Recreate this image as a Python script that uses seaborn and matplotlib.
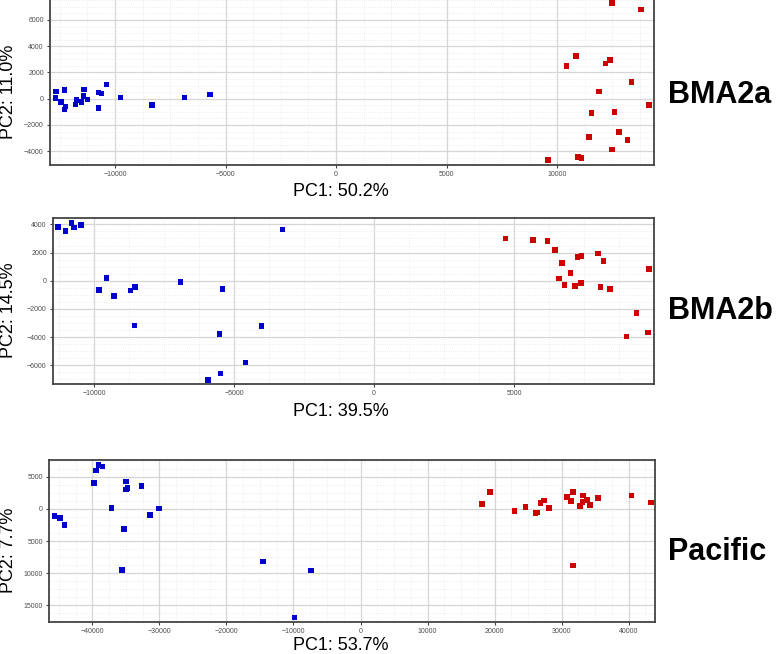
import pandas as pd
import matplotlib
matplotlib.use('Agg')
import matplotlib.pyplot as plt
from matplotlib.ticker import MultipleLocator
import seaborn as sns

# PCA scores, one pair of arrays per group and panel
# BMA2a
a_blue_x = [-12670, -12700, -12294, -12430, -12231, -12276, -11751, -11778, -11525, -11403,
            -11434, -11253, -10738, -10602, -10738, -10394, -9742, -8326, -6864, -5715]
a_blue_y = [536, 46, 659, -230, -590, -820, -107, -437, -260, 713,
            199, -54, 460, 406, -690, 1096, 100, -460, 100, 330]
a_red_x = [12489, 13801, 10846, 10425, 12385, 12190, 13367, 11887, 14149, 11557,
           12597, 11434, 12792, 13186, 12475, 10937, 11104, 9593]
a_red_y = [7280, 6789, 3264, 2498, 2958, 2682, 1272, 536, -490, -1073,
           -1027, -2912, -2529, -3142, -3885, -4444, -4521, -4674]

# BMA2b
b_blue_x = [-11274, -11012, -10798, -10714, -10464, -9548, -9821, -9274, -8690, -8524,
            -8548, -6917, -5417, -5512, -4012, -4595, -5488, -5929, -3274]
b_blue_y = [3830, 3546, 4113, 3782, 3972, 213, -638, -1087, -686, -449,
            -3168, -95, -591, -3759, -3191, -5792, -6572, -7021, 3641]
b_red_x = [4690, 5667, 6190, 6464, 7262, 7405, 7988, 8190, 6702, 7012,
           6607, 6798, 7167, 7381, 8083, 8417, 9810, 9369, 9012, 9774]
b_red_y = [3002, 2884, 2813, 2198, 1678, 1773, 1938, 1418, 1277, 567,
           166, -284, -355, -166, -426, -591, 827, -2267, -3944, -3660]

# Pacific
p_blue_x = [-45677, -44831, -44133, -39104, -38456, -39452, -39751, -34970, -35020, -34771,
            -32679, -37161, -31434, -30090, -35269, -35618, -14552, -7380, -9821]
p_blue_y = [-1091, -1403, -2494, 6857, 6597, 5974, 4052, 4260, 3013, 3273,
            3584, 156, -935, 52, -3117, -9506, -8156, -9610, -16883]
p_red_x = [18118, 19313, 22948, 24641, 26086, 26335, 26882, 27331, 28127, 30767,
           31663, 31365, 32709, 33108, 33207, 33755, 34253, 35398, 40428, 43317, 31663]
p_red_y = [779, 2649, -312, 312, -623, -571, 883, 1299, 156, 1870,
           2597, 1195, 416, 1039, 2078, 1351, 571, 1662, 2078, 987, -8779]

panel_names = ['BMA2a', 'BMA2b', 'Pacific']
pc1_labels = ['PC1: 50.2%', 'PC1: 39.5%', 'PC1: 53.7%']
pc2_labels = ['PC2: 11.0%', 'PC2: 14.5%', 'PC2: 7.7%']

# y tick labels of the Pacific panel as printed (minus signs missing in the original)
p_yticks = [5000, 0, -5000, -10000, -15000]
p_yticklabels = ['5000', '0', '5000', '10000', '15000']

data = [
    (a_blue_x, a_blue_y, a_red_x, a_red_y),
    (b_blue_x, b_blue_y, b_red_x, b_red_y),
    (p_blue_x, p_blue_y, p_red_x, p_red_y),
]

sns.set_style('white')
plt.rcParams['font.family'] = ['Liberation Sans', 'DejaVu Sans']

fig = plt.figure(figsize=(7.78, 6.54), dpi=100)
W, H = 778, 654

# axes boxes in pixels: left, top, right, bottom
boxes = [(50, -1, 654, 165), (53, 218, 654, 384), (49, 460, 655, 622)]
xlims = [(-12940, 14380), (-11460, 9990), (-46470, 43930)]
ylims = [(-5050, 7600), (-7320, 4450), (-17600, 7600)]
xsteps = [5000, 5000, 10000]
ysteps = [2000, 2000, 5000]
ylab_y = [92, 310, 550]
xlab_y = [191, 412, 646]
name_y = [95, 311, 552]

palette = {'a': '#0000CD', 'b': '#CD0000'}

for i, (bx, by, rx, ry) in enumerate(data):
    l, t, r, b = boxes[i]
    ax = fig.add_axes([l / W, 1 - b / H, (r - l) / W, (b - t) / H])
    df = pd.DataFrame({
        'PC1': bx + rx,
        'PC2': by + ry,
        'grp': ['a'] * len(bx) + ['b'] * len(rx),
    })
    sns.scatterplot(data=df, x='PC1', y='PC2', hue='grp', palette=palette,
                    marker='s', s=16, linewidth=0, legend=False, ax=ax, zorder=3)
    ax.set_xlim(*xlims[i])
    ax.set_ylim(*ylims[i])
    ax.xaxis.set_major_locator(MultipleLocator(xsteps[i]))
    ax.yaxis.set_major_locator(MultipleLocator(ysteps[i]))
    ax.xaxis.set_minor_locator(MultipleLocator(xsteps[i] / 4))
    ax.yaxis.set_minor_locator(MultipleLocator(ysteps[i] / 4))
    if i == 2:
        ax.set_yticks(p_yticks, p_yticklabels)
    ax.grid(True, which='major', color='#d6d6d6', linewidth=0.9, zorder=0)
    ax.grid(True, which='minor', color='#e8e8e8', linewidth=0.6, linestyle=':', zorder=0)
    ax.set_axisbelow(True)
    for sp in ax.spines.values():
        sp.set_color('#444444')
        sp.set_linewidth(1.3)
    ax.tick_params(which='major', length=2.5, width=0.8, color='#444444',
                   labelsize=5, labelcolor='#4d4d4d', pad=2, direction='out',
                   bottom=True, left=True)
    ax.tick_params(which='minor', length=0)
    ax.set_xlabel('')
    ax.set_ylabel('')

    fig.text(9 / W, 1 - ylab_y[i] / H, pc2_labels[i], rotation=90,
             ha='center', va='center', fontsize=13, color='black')
    fig.text(341 / W, 1 - xlab_y[i] / H, pc1_labels[i],
             ha='center', va='center', fontsize=13, color='black')
    fig.text(668 / W, 1 - name_y[i] / H, panel_names[i],
             ha='left', va='center', fontsize=22, fontweight='bold', color='black')

fig.savefig('out.png', dpi=100)
